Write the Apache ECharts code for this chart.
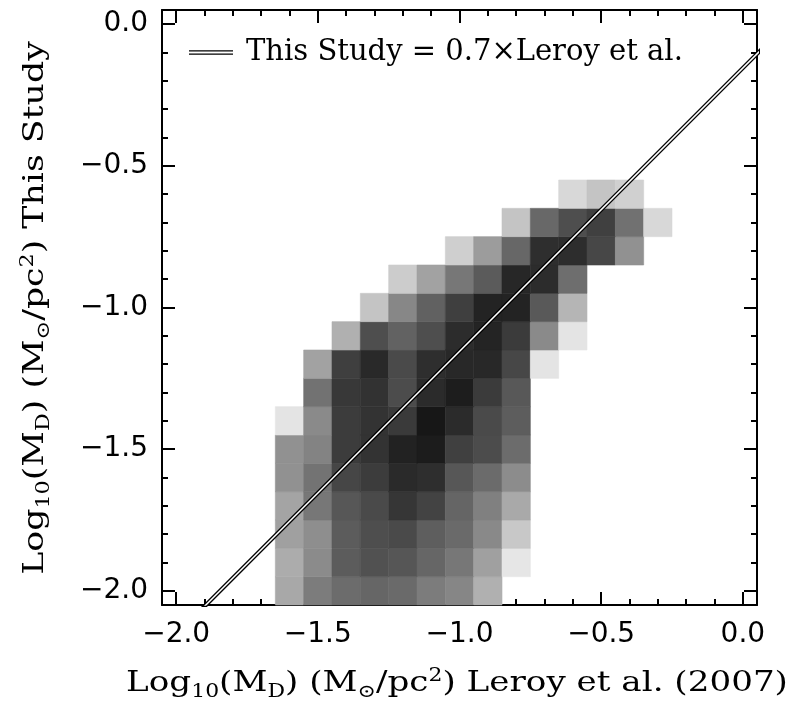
<!DOCTYPE html>
<html>
<head>
<meta charset="utf-8">
<title>Dust surface density: this study vs Leroy et al.</title>
<script src="https://cdn.jsdelivr.net/npm/echarts@6/dist/echarts.min.js"></script>
<style>
  html, body { margin: 0; padding: 0; background: #fff; }
  #chart { width: 794px; height: 707px; }
</style>
</head>
<body>
<div id="chart"></div>
<script>
// bin centres, log10 dust surface density
var xBins = [-1.6, -1.5, -1.4, -1.3, -1.2, -1.1, -1.0, -0.9, -0.8, -0.7, -0.6, -0.5, -0.4, -0.3];
var yBins = [-2.0, -1.9, -1.8, -1.7, -1.6, -1.5, -1.4, -1.3, -1.2, -1.1, -1.0, -0.9, -0.8, -0.7, -0.6];
// shading of each bin (0 = empty, 255 = black), one row per yBins entry
var density = [
  [ 87, 131, 147, 153, 149, 131, 121,  79,   0,   0,   0,   0,   0,   0],
  [ 83, 116, 163, 174, 169, 153, 136,  95,  25,   0,   0,   0,   0,   0],
  [ 95, 113, 163, 177, 181, 161, 149, 118,  55,   0,   0,   0,   0,   0],
  [ 91, 136, 168, 181, 201, 188, 154, 127,  86,   0,   0,   0,   0,   0],
  [110, 140, 185, 195, 213, 209, 168, 148, 115,   0,   0,   0,   0,   0],
  [110, 124, 195, 204, 221, 227, 191, 179, 147,   0,   0,   0,   0,   0],
  [ 27, 117, 195, 204, 197, 232, 212, 181, 162,   0,   0,   0,   0,   0],
  [  0, 141, 199, 205, 179, 212, 226, 196, 167,   0,   0,   0,   0,   0],
  [  0,  93, 192, 214, 181, 209, 215, 215, 184,  27,   0,   0,   0,   0],
  [  0,   0,  79, 177, 157, 177, 211, 219, 196, 117,  27,   0,   0,   0],
  [  0,   0,   0,  59, 120, 158, 192, 220, 220, 166,  74,   0,   0,   0],
  [  0,   0,   0,   0,  51,  93, 136, 164, 216, 211, 145,   0,   0,   0],
  [  0,   0,   0,   0,   0,   0,  48,  99, 152, 209, 210, 184, 110,   0],
  [  0,   0,   0,   0,   0,   0,   0,   0,  59, 151, 177, 191, 142,  39],
  [  0,   0,   0,   0,   0,   0,   0,   0,   0,   0,  39,  59,  47,   0]
];
var ratio = 0.7;              // This Study = 0.7 x Leroy et al.
var lineX = [-2.2, 0.1];
var majorTicks = [-2.0, -1.5, -1.0, -0.5, 0.0];
var minorTicks = [-2.0, -1.9, -1.8, -1.7, -1.6, -1.5, -1.4, -1.3, -1.2, -1.1, -1.0,
                  -0.9, -0.8, -0.7, -0.6, -0.5, -0.4, -0.3, -0.2, -0.1, 0.0];
var legendName = 'This Study = 0.7×Leroy et al.';

var binHalf = 0.05;
var axisMin = -2.05, axisMax = 0.05;

var cells = [];
yBins.forEach(function (y, i) {
  xBins.forEach(function (x, j) {
    if (density[i][j] > 0) cells.push([x, y, density[i][j]]);
  });
});

var lineData = lineX.map(function (x) {
  return [x, x + Math.log10(ratio)];
});

var serif = 'DejaVu Serif';
var sans = 'DejaVu Sans';

function tickLabel(v) {
  return (v < -1e-9 ? '\u2212' : '') + Math.abs(v).toFixed(1);
}

// one axis per side for the long ticks (and labels), one for the short ticks
function makeAxis(position, ticks, len, withLabels) {
  return {
    type: 'value',
    position: position,
    min: axisMin,
    max: axisMax,
    splitLine: { show: false },
    axisLine: { show: len > 10, onZero: false, lineStyle: { color: '#000', width: 2 } },
    axisTick: {
      show: true, inside: true, length: len, customValues: ticks,
      lineStyle: { color: '#000', width: 2 }
    },
    axisLabel: {
      show: withLabels,
      customValues: ticks,
      formatter: tickLabel,
      color: '#000',
      fontFamily: sans,
      fontSize: 28,
      margin: position === 'bottom' ? 16 : 14
    }
  };
}

var richStyles = {
  sub: { fontFamily: serif, fontSize: 18, lineHeight: 18, verticalAlign: 'bottom', fill: '#000' },
  sup: { fontFamily: serif, fontSize: 18, lineHeight: 18, verticalAlign: 'top', fill: '#000' }
};

var xTitle = 'Log{sub|10}(M{sub|D}) (M{sub|\u2299}/pc{sup|2}) Leroy et al. (2007)';
var yTitle = 'Log{sub|10}(M{sub|D}) (M{sub|\u2299}/pc{sup|2}) This Study';

var chart = echarts.init(document.getElementById('chart'));

chart.setOption({
  backgroundColor: '#fff',
  animation: false,
  grid: { left: 162, right: 37, top: 10, bottom: 102 },
  xAxis: [
    makeAxis('bottom', majorTicks, 13, true),
    makeAxis('bottom', minorTicks, 6, false),
    makeAxis('top', majorTicks, 13, false),
    makeAxis('top', minorTicks, 6, false)
  ],
  yAxis: [
    makeAxis('left', majorTicks, 13, true),
    makeAxis('left', minorTicks, 6, false),
    makeAxis('right', majorTicks, 13, false),
    makeAxis('right', minorTicks, 6, false)
  ],
  visualMap: {
    show: false,
    type: 'continuous',
    min: 0,
    max: 255,
    dimension: 2,
    seriesIndex: 0,
    inRange: { color: ['#ffffff', '#000000'] }
  },
  legend: {
    data: [legendName],
    left: 189,
    top: 38,
    padding: 0,
    icon: 'path://M0,0H40V1.3H0Z M0,2.9H40V4.2H0Z',
    itemWidth: 44,
    itemHeight: 5,
    textStyle: {
      fontFamily: serif, fontSize: 29, color: '#000', padding: [0, 0, 0, 8]
    }
  },
  series: [
    {
      type: 'custom',
      xAxisIndex: 0,
      yAxisIndex: 0,
      silent: true,
      data: cells,
      encode: { x: 0, y: 1 },
      renderItem: function (params, api) {
        var x = api.value(0), y = api.value(1);
        var p0 = api.coord([x - binHalf, y + binHalf]);
        var p1 = api.coord([x + binHalf, y - binHalf]);
        var c = api.visual('color');
        return {
          type: 'rect',
          shape: { x: p0[0], y: p0[1], width: p1[0] - p0[0], height: p1[1] - p0[1] },
          style: { fill: c, stroke: c, lineWidth: 0.6 }
        };
      }
    },
    {
      name: legendName,
      type: 'line',
      data: lineData,
      showSymbol: false,
      symbol: 'none',
      silent: true,
      clip: true,
      z: 5,
      lineStyle: { color: '#000', width: 4.2 },
      itemStyle: { color: '#000' }
    },
    {
      name: 'centre',
      type: 'line',
      data: lineData,
      showSymbol: false,
      symbol: 'none',
      silent: true,
      clip: true,
      z: 6,
      lineStyle: { color: '#fff', width: 1.5 }
    }
  ],
  graphic: [
    {
      type: 'text',
      x: 457,
      y: 684,
      scaleX: 1.22,
      style: {
        text: xTitle,
        rich: richStyles,
        fontFamily: serif,
        fontSize: 28,
        lineHeight: 34,
        fill: '#000',
        align: 'center',
        verticalAlign: 'middle',
        textAlign: 'center',
        textVerticalAlign: 'middle'
      }
    },
    {
      type: 'text',
      x: 36,
      y: 308,
      rotation: Math.PI / 2,
      scaleX: 1.24,
      style: {
        text: yTitle,
        rich: richStyles,
        fontFamily: serif,
        fontSize: 28,
        lineHeight: 34,
        fill: '#000',
        align: 'center',
        verticalAlign: 'middle',
        textAlign: 'center',
        textVerticalAlign: 'middle'
      }
    }
  ]
});
</script>
</body>
</html>
